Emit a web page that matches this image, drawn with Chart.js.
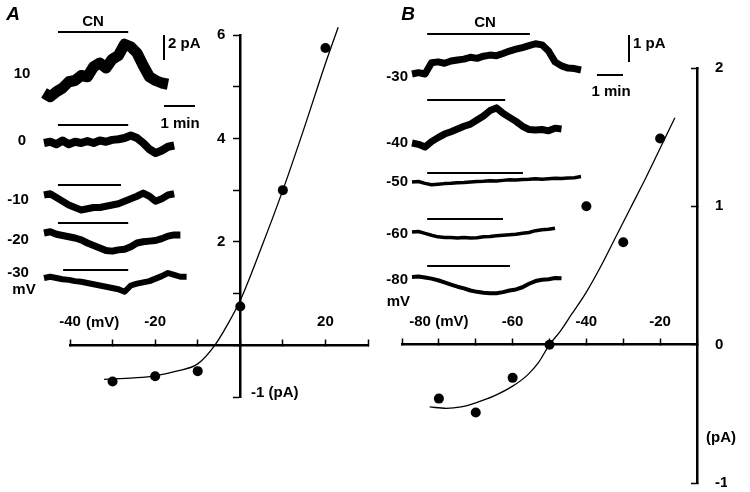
<!DOCTYPE html>
<html>
<head>
<meta charset="utf-8">
<title>CN-induced current, I-V</title>
<script src="https://cdn.jsdelivr.net/npm/chart.js@4.4.1/dist/chart.umd.min.js"></script>
<style>
  body { margin: 0; background: #fff; }
  #fig { position: relative; width: 750px; height: 492px; }
  #fig canvas { position: absolute; top: 0; }
  #chartA, #insetA { left: 0; }
  #chartB, #insetB { left: 375px; }
</style>
</head>
<body>
<div id="fig">
  <canvas id="chartA" width="375" height="492"></canvas>
  <canvas id="chartB" width="375" height="492"></canvas>
  <canvas id="insetA" width="375" height="320"></canvas>
  <canvas id="insetB" width="375" height="320"></canvas>
</div>
<script>
// ---- panel A: CN current (pA) vs holding potential (mV)
const voltA = [-30, -20, -10, 0, 10, 20];
const currA = [-0.7, -0.6, -0.5, 0.75, 3.0, 5.75];
const fitVoltA = [-32, -25, -20, -15, -10, -6, -3, 0, 5, 10, 15, 20, 23];
const fitCurrA = [-0.66, -0.63, -0.59, -0.5, -0.36, 0, 0.4, 0.87, 1.9, 3.0, 4.2, 5.45, 6.15];
const xLabelsA = [-40, -20, 20];
const yLabelsA = [2, 4, 6];

// ---- panel B
const voltB = [-80, -70, -60, -50, -40, -30, -20];
const currB = [-0.39, -0.49, -0.24, 0.0, 1.0, 0.74, 1.49];
const fitVoltB = [-82.5, -78, -74, -70, -65, -60, -56, -53, -50, -47, -44, -40, -36, -32, -28, -24, -20, -16];
const fitCurrB = [-0.45, -0.46, -0.45, -0.42, -0.37, -0.30, -0.22, -0.13, 0.0, 0.1, 0.22, 0.38, 0.57, 0.78, 0.99, 1.2, 1.42, 1.64];
const xLabelsB = [-80, -60, -40, -20];
const yLabelsB = [-1, 0, 1, 2];

// ---- raw traces: pA relative to first sample, one sample every stepA / stepB seconds
const stepA = 12;
const trA10 = [0, -0.3, 0.1, 0.4, 0.9, 1.0, 1.4, 1.3, 2.1, 2.4, 2.0, 2.7, 3.0, 3.9, 3.7, 3.2, 2.2, 1.3, 1.0, 0.8, 0.7];
const trA0 = [0, 0.1, -0.1, 0.2, -0.1, 0.1, 0.0, 0.15, 0.0, 0.2, 0.1, 0.25, 0.3, 0.4, 0.6, 0.4, 0.0, -0.5, -0.8, -0.6, -0.3, -0.2];
const trAm10 = [0, 0.1, -0.2, -0.5, -0.8, -1.0, -1.2, -1.1, -1.0, -1.0, -0.9, -0.8, -0.7, -0.5, -0.3, -0.1, 0.15, -0.1, -0.5, -0.3, 0.0, 0.1];
const trAm20 = [0, 0.1, -0.1, -0.2, -0.3, -0.4, -0.55, -0.8, -1.0, -1.2, -1.4, -1.45, -1.35, -1.3, -1.1, -0.8, -0.7, -0.65, -0.6, -0.45, -0.25, -0.15, -0.15];
const trAm30 = [0, 0.1, 0.0, -0.1, -0.15, -0.25, -0.3, -0.4, -0.5, -0.6, -0.7, -0.8, -0.9, -1.1, -0.6, -0.45, -0.35, -0.25, -0.05, 0.15, 0.4, 0.25, 0.1, 0.1];
const trNamesA = ['10', '0', '-10', '-20', '-30'];
const cnA = [[27, 163], [27, 163], [27, 149], [27, 163], [37, 163]]; // CN on/off, s

const stepB = 15;
const trBm30 = [0.0, 0.05, 0.0, 0.42, 0.45, 0.40, 0.48, 0.52, 0.55, 0.62, 0.58, 0.66, 0.70, 0.68, 0.76, 0.85, 0.92, 0.98, 1.05, 1.12, 1.08, 0.85, 0.45, 0.30, 0.22, 0.20, 0.15];
const trBm40 = [0, -0.05, -0.15, 0.05, 0.2, 0.33, 0.42, 0.52, 0.62, 0.7, 0.85, 1.0, 1.2, 1.3, 1.1, 0.95, 0.8, 0.62, 0.5, 0.48, 0.5, 0.45, 0.55, 0.52];
const trBm50 = [0, 0.02, -0.05, -0.1, -0.08, -0.06, -0.05, -0.03, -0.02, 0, 0.02, 0.03, 0.05, 0.04, 0.06, 0.08, 0.07, 0.09, 0.1, 0.12, 0.1, 0.12, 0.14, 0.13, 0.15, 0.16, 0.2];
const trBm60 = [0, 0.02, -0.05, -0.12, -0.18, -0.2, -0.2, -0.22, -0.2, -0.22, -0.21, -0.18, -0.17, -0.14, -0.12, -0.1, -0.08, -0.05, -0.02, 0.05, 0.08, 0.1, 0.14];
const trBm80 = [0, 0.02, -0.02, -0.06, -0.12, -0.2, -0.28, -0.36, -0.42, -0.5, -0.55, -0.58, -0.6, -0.6, -0.56, -0.5, -0.46, -0.38, -0.25, -0.15, -0.1, -0.08, -0.04, -0.05];
const trNamesB = ['-30', '-40', '-50', '-60', '-80'];
const cnB = [[35, 272], [35, 215], [35, 256], [35, 210], [35, 226]];

// ---- layout (pixels in each 375px-wide canvas)
const FONT = "'Liberation Sans', Arial, Helvetica, sans-serif";
Chart.defaults.font.family = FONT;
Chart.defaults.font.size = 15;
Chart.defaults.font.weight = 'bold';
Chart.defaults.color = '#000';

// inset canvases are 375x320; trace start column, px per second, px per pA, rows
const INSET_W = 375, INSET_H = 320;
const insA = {x0: 44, pps: 31 / 60, ppa: 12.5, rows: [93, 143, 195, 233, 278], cnRows: [32, 125, 185, 223, 270],
  widths: [11, 8, 7, 7, 6], vBar: {x: 164, y: 60, pA: 2}, hBar: {x: 164, y: 106, s: 60}};
const insB = {x0: 37, pps: 26 / 60, ppa: 27, rows: [74, 143, 182, 232, 277], cnRows: [34, 100, 173, 219, 266],
  widths: [7, 7, 3.5, 3.5, 4], vBar: {x: 254, y: 62, pA: 1}, hBar: {x: 222, y: 75, s: 60}};

function insetChart(id, ins, traces, step, cn) {
  const row = px => (INSET_H - px) / ins.ppa;
  const col = px => (px - ins.x0) / ins.pps;
  const base = {borderColor: '#000', pointRadius: 0, tension: 0, borderJoinStyle: 'round', showLine: true};
  const sets = [];
  traces.forEach((vals, k) => {
    const y0 = row(ins.rows[k]);
    sets.push({...base, borderWidth: ins.widths[k], data: vals.map((v, i) => ({x: i * step, y: y0 + v}))});
    const yc = row(ins.cnRows[k]);
    sets.push({...base, borderWidth: 2, data: [{x: cn[k][0], y: yc}, {x: cn[k][1], y: yc}]});
  });
  const vb = ins.vBar, hb = ins.hBar;
  sets.push({...base, borderWidth: 2, data: [{x: col(vb.x), y: row(vb.y)}, {x: col(vb.x), y: row(vb.y) + vb.pA}]});
  sets.push({...base, borderWidth: 2, data: [{x: col(hb.x), y: row(hb.y)}, {x: col(hb.x) + hb.s, y: row(hb.y)}]});
  return new Chart(document.getElementById(id), {
    type: 'scatter',
    data: {datasets: sets},
    options: {
      responsive: false, animation: false, devicePixelRatio: 1, events: [],
      plugins: {legend: {display: false}, tooltip: {enabled: false}},
      scales: {
        x: {type: 'linear', display: false, min: col(0), max: col(INSET_W)},
        y: {type: 'linear', display: false, min: 0, max: INSET_H / ins.ppa}
      }
    }
  });
}

function textPlugin(items) {
  return {
    id: 'notes',
    afterDraw(chart) {
      const ctx = chart.ctx;
      ctx.save();
      ctx.fillStyle = '#000';
      ctx.textBaseline = 'middle';
      for (const t of items) {
        ctx.font = t.font || ('bold 15px ' + FONT);
        ctx.textAlign = t.align || 'center';
        ctx.fillText(t.text, t.x, t.y);
      }
      ctx.restore();
    }
  };
}

function ivSets(volt, curr, fitV, fitI) {
  return [
    {data: volt.map((v, i) => ({x: v, y: curr[i]})), pointRadius: 5, pointBackgroundColor: '#000',
      pointBorderWidth: 0, showLine: false},
    {data: fitV.map((v, i) => ({x: v, y: fitI[i]})), pointRadius: 0, showLine: true, borderColor: '#000',
      borderWidth: 1.3, cubicInterpolationMode: 'monotone', clip: false}
  ];
}

const axisLine = {display: true, color: '#000', width: 2.5};
const baseOpts = {
  responsive: false, animation: false, devicePixelRatio: 1, events: [],
  plugins: {legend: {display: false}, tooltip: {enabled: false}}
};

// ---- chart A: axes cross at (0 mV, 0 pA)
new Chart(document.getElementById('chartA'), {
  type: 'scatter',
  data: {datasets: ivSets(voltA, currA, fitVoltA, fitCurrA)},
  options: {
    ...baseOpts,
    layout: {padding: {left: 70, right: 7, top: 35, bottom: 95}},
    scales: {
      x: {type: 'linear', min: -40, max: 30, position: {y: 0},
        border: axisLine,
        grid: {drawOnChartArea: false, tickLength: -7, tickWidth: 1.5, tickColor: '#000'},
        ticks: {stepSize: 10, autoSkip: false, maxRotation: 0, minRotation: 0, padding: -25,
          callback: v => xLabelsA.includes(v) ? String(v) : ''}},
      y: {type: 'linear', min: -1, max: 6, position: {x: 0},
        border: axisLine,
        grid: {drawOnChartArea: false, tickLength: 6, tickWidth: 1.5, tickColor: '#000'},
        // labels sit right-aligned on the axis; an em space keeps them clear of the tick marks
        ticks: {stepSize: 1, callback: v => yLabelsA.includes(v) ? v + '\u2003' : ''}}
    }
  },
  plugins: [textPlugin([
    {text: 'A', x: 13, y: 15, font: 'italic bold 19px ' + FONT},
    {text: 'CN', x: 93, y: 22},
    {text: '2 pA', x: 168, y: 44, align: 'left'},
    {text: '1 min', x: 180, y: 124},
    {text: trNamesA[0], x: 22, y: 74},
    {text: trNamesA[1], x: 22, y: 141},
    {text: trNamesA[2], x: 18, y: 200},
    {text: trNamesA[3], x: 18, y: 240},
    {text: trNamesA[4], x: 18, y: 273},
    {text: 'mV', x: 24, y: 290},
    {text: '(mV)', x: 86, y: 323, align: 'left'},
    {text: '-1 (pA)', x: 251, y: 393, align: 'left'}
  ])]
});

// ---- chart B: y axis on the right at -10 mV
new Chart(document.getElementById('chartB'), {
  type: 'scatter',
  data: {datasets: ivSets(voltB, currB, fitVoltB, fitCurrB)},
  options: {
    ...baseOpts,
    layout: {padding: {left: 27, right: 23, top: 68, bottom: 9}},
    scales: {
      x: {type: 'linear', min: -90, max: -10, position: {y: 0},
        border: axisLine,
        grid: {drawOnChartArea: false, tickLength: -7, tickWidth: 1.5, tickColor: '#000'},
        ticks: {stepSize: 10, autoSkip: false, maxRotation: 0, minRotation: 0, padding: -25,
          callback: v => !xLabelsB.includes(v) ? '' : (v === xLabelsB[0] ? v + ' (mV)' : String(v))}},
      y: {type: 'linear', min: -1, max: 2, position: 'right',
        // fixed box width; do not let the label padding shrink the plot vertically
        afterFit: s => { s.width = 30; s.paddingTop = 0; s.paddingBottom = 0; },
        border: axisLine,
        grid: {drawOnChartArea: false, tickLength: -6, tickWidth: 1.5, tickColor: '#000'},
        ticks: {stepSize: 1, padding: 24, callback: v => yLabelsB.includes(v) ? String(v) : ''}}
    }
  },
  plugins: [textPlugin([
    {text: 'B', x: 33, y: 15, font: 'italic bold 19px ' + FONT},
    {text: 'CN', x: 110, y: 23},
    {text: '1 pA', x: 258, y: 44, align: 'left'},
    {text: '1 min', x: 236, y: 92},
    {text: trNamesB[0], x: 33, y: 77, align: 'right'},
    {text: trNamesB[1], x: 33, y: 143, align: 'right'},
    {text: trNamesB[2], x: 33, y: 182, align: 'right'},
    {text: trNamesB[3], x: 33, y: 234, align: 'right'},
    {text: trNamesB[4], x: 33, y: 280, align: 'right'},
    {text: 'mV', x: 35, y: 302, align: 'right'},
    {text: '(pA)', x: 346, y: 438}
  ])]
});

// ---- current traces
insetChart('insetA', insA, [trA10, trA0, trAm10, trAm20, trAm30], stepA, cnA);
insetChart('insetB', insB, [trBm30, trBm40, trBm50, trBm60, trBm80], stepB, cnB);
</script>
</body>
</html>
